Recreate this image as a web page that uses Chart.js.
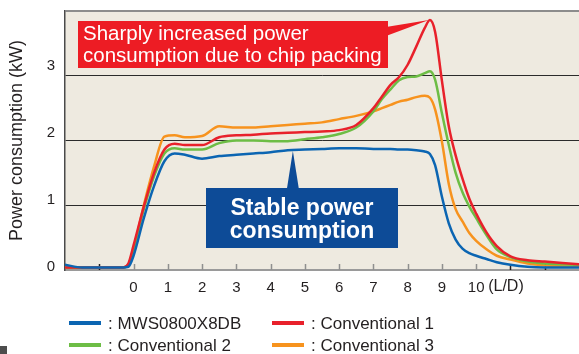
<!DOCTYPE html>
<html lang="en">
<head>
<meta charset="utf-8">
<title>Power consumption along the screw</title>
<script src="https://cdn.jsdelivr.net/npm/chart.js@4.4.1/dist/chart.umd.min.js"></script>
<style>
  html, body { margin: 0; padding: 0; background: #ffffff; }
  #wrap { width: 579px; height: 354px; }
</style>
</head>
<body>
<div id="wrap"><canvas id="chartPower" width="579" height="354"></canvas></div>
<script>
// Position along the screw (L/D), shared by all four traces
const positionLD = [-2, -1.5, -1, -0.3, -0.15, 0, 0.3, 0.6, 0.9, 1.2, 1.5, 2, 2.5, 3, 3.5, 4, 4.5, 5, 5.5, 6,
  6.5, 7, 7.25, 7.5, 7.75, 8, 8.25, 8.5, 8.65, 8.8, 9, 9.2, 9.4, 9.6, 9.8, 10, 10.3, 10.6, 11, 11.5, 12, 13];

// Power consumption in kW for each machine
const powerMWS = [0.08, 0.04, 0.04, 0.04, 0.05, 0.22, 0.80, 1.30, 1.68, 1.80, 1.78, 1.72, 1.76, 1.78, 1.80, 1.82, 1.85, 1.86, 1.87, 1.88,
  1.88, 1.87, 1.87, 1.87, 1.86, 1.86, 1.85, 1.83, 1.79, 1.62, 1.13, 0.72, 0.47, 0.33, 0.26, 0.22, 0.17, 0.12, 0.08, 0.05, 0.04, 0.04];
const powerConv1 = [0.04, 0.04, 0.04, 0.04, 0.10, 0.38, 0.98, 1.50, 1.86, 1.95, 1.93, 1.93, 2.05, 2.08, 2.09, 2.11, 2.12, 2.13, 2.14, 2.16,
  2.24, 2.50, 2.68, 2.86, 2.98, 3.17, 3.45, 3.74, 3.86, 3.68, 2.92, 2.22, 1.77, 1.41, 1.10, 0.87, 0.58, 0.37, 0.21, 0.15, 0.13, 0.09];
const powerConv2 = [0.04, 0.04, 0.04, 0.04, 0.08, 0.33, 0.94, 1.45, 1.80, 1.88, 1.86, 1.86, 1.96, 2.00, 2.00, 1.99, 1.99, 2.02, 2.05, 2.10,
  2.20, 2.45, 2.64, 2.79, 2.93, 2.98, 2.99, 3.04, 3.07, 2.94, 2.42, 1.93, 1.50, 1.20, 0.98, 0.80, 0.54, 0.32, 0.20, 0.13, 0.10, 0.08];
const powerConv3 = [0.04, 0.04, 0.04, 0.04, 0.08, 0.32, 1.00, 1.60, 2.06, 2.08, 2.05, 2.07, 2.22, 2.20, 2.20, 2.22, 2.24, 2.26, 2.28, 2.33,
  2.38, 2.45, 2.50, 2.55, 2.60, 2.63, 2.67, 2.69, 2.66, 2.48, 1.98, 1.33, 0.94, 0.75, 0.57, 0.45, 0.32, 0.22, 0.16, 0.10, 0.07, 0.05];

const seriesLabels = ['MWS0800X8DB', 'Conventional 1', 'Conventional 2', 'Conventional 3'];
const seriesColors = ['#0b65b2', '#e8212b', '#6dbd45', '#f7931e'];

// Tick labels that get printed on each axis
const xLabelValues = [0, 1, 2, 3, 4, 5, 6, 7, 8, 9, 10];
const yLabelValues = [0, 1, 2, 3];

// Callout texts
const peakNote = ['Sharply increased power', 'consumption due to chip packing'];
const stableNote = ['Stable power', 'consumption'];
const stableNoteAt = 4.65; // L/D where the blue callout points

const fontFamily = "'Liberation Sans', Arial, Helvetica, sans-serif";
const textColor = '#231f20';

function toPoints(values) {
  return positionLD.map((x, i) => ({ x: x, y: values[i] }));
}

// Linear lookup of a trace at any L/D
function valueAt(values, ld) {
  for (let i = 1; i < positionLD.length; i++) {
    if (ld <= positionLD[i]) {
      const t = (ld - positionLD[i - 1]) / (positionLD[i] - positionLD[i - 1]);
      return values[i - 1] + t * (values[i] - values[i - 1]);
    }
  }
  return values[values.length - 1];
}

// Beige plot panel
const plotBackground = {
  id: 'plotBackground',
  beforeDraw(chart) {
    const { ctx, chartArea: a } = chart;
    ctx.save();
    ctx.fillStyle = '#eeeae0';
    ctx.fillRect(a.left, a.top, a.right - a.left, a.bottom - a.top);
    ctx.restore();
  }
};

// Short tick marks standing up from the bottom axis
const innerTicks = {
  id: 'innerTicks',
  beforeDatasetsDraw(chart) {
    const { ctx, chartArea: a, scales: { x } } = chart;
    ctx.save();
    ctx.lineWidth = 1.5;
    for (let v = Math.ceil(x.min) + 1; v < x.max; v++) {
      const px = Math.round(x.getPixelForValue(v)) + 0.5;
      ctx.strokeStyle = (v >= 0 && v <= 10) ? '#8f8f8f' : '#231f20';
      ctx.beginPath();
      ctx.moveTo(px, a.bottom);
      ctx.lineTo(px, a.bottom - 6);
      ctx.stroke();
    }
    ctx.restore();
  }
};

// Y labels sit a little above their grid lines, a bit more the higher they go
const yLabels = {
  id: 'yLabels',
  afterDraw(chart) {
    const { ctx, scales: { y } } = chart;
    ctx.save();
    ctx.font = '15px ' + fontFamily;
    ctx.fillStyle = textColor;
    ctx.textAlign = 'right';
    ctx.textBaseline = 'middle';
    yLabelValues.forEach(v => {
      ctx.fillText(String(v), y.right - 10, y.getPixelForValue(v) - (3 + v * 2.3));
    });
    ctx.restore();
  }
};

// Red and blue callout boxes with their pointers
const callouts = {
  id: 'callouts',
  afterDatasetsDraw(chart) {
    const { ctx, scales: { x, y } } = chart;
    ctx.save();

    // red box pointing at the peak of Conventional 1
    const peak = Math.max(...powerConv1);
    const peakLD = positionLD[powerConv1.indexOf(peak)];
    const tipX = x.getPixelForValue(peakLD);
    const tipY = y.getPixelForValue(peak);
    ctx.fillStyle = '#ed1c24';
    ctx.fillRect(78, 21, 310, 47);
    ctx.beginPath();
    ctx.moveTo(386, 27);
    ctx.lineTo(tipX - 1, tipY);
    ctx.lineTo(386, 36);
    ctx.closePath();
    ctx.fill();
    ctx.fillStyle = '#ffffff';
    ctx.font = '20.5px ' + fontFamily;
    ctx.textAlign = 'left';
    ctx.textBaseline = 'alphabetic';
    ctx.fillText(peakNote[0], 83, 40);
    ctx.fillText(peakNote[1], 83, 62);

    // blue box pointing at the flat MWS trace
    const sx = x.getPixelForValue(stableNoteAt);
    const sy = y.getPixelForValue(valueAt(powerMWS, stableNoteAt));
    ctx.fillStyle = '#0d4b97';
    ctx.fillRect(206, 188, 192, 60);
    ctx.beginPath();
    ctx.moveTo(sx - 6, 189);
    ctx.lineTo(sx, sy + 1);
    ctx.lineTo(sx + 6, 189);
    ctx.closePath();
    ctx.fill();
    ctx.fillStyle = '#ffffff';
    ctx.font = 'bold 23px ' + fontFamily;
    ctx.textAlign = 'center';
    ctx.fillText(stableNote[0], 302, 215);
    ctx.fillText(stableNote[1], 302, 238);
    ctx.restore();
  }
};

// Two-column legend under the axis, plus the (L/D) unit
const legendRows = {
  id: 'legendRows',
  afterDraw(chart) {
    const { ctx, scales: { x } } = chart;
    const cols = [69, 272];
    const rows = [323, 345];
    ctx.save();
    ctx.font = '17px ' + fontFamily;
    ctx.textBaseline = 'middle';
    ctx.textAlign = 'left';
    chart.data.datasets.forEach((ds, i) => {
      const lx = cols[i % 2];
      const ly = rows[Math.floor(i / 2)];
      ctx.strokeStyle = ds.borderColor;
      ctx.lineWidth = 4;
      ctx.beginPath();
      ctx.moveTo(lx, ly);
      ctx.lineTo(lx + 32, ly);
      ctx.stroke();
      ctx.fillStyle = textColor;
      ctx.fillText(': ' + ds.label, lx + 39, ly + 1);
    });

    ctx.font = '16px ' + fontFamily;
    ctx.fillText('(L/D)', x.getPixelForValue(10) + 12, x.top + 17);

    ctx.fillStyle = '#4d4d4d';
    ctx.fillRect(0, 346, 7, 8);
    ctx.restore();
  }
};

document.addEventListener('DOMContentLoaded', () => {
  if (typeof Chart === 'undefined') return;

  Chart.defaults.font.family = fontFamily;
  Chart.defaults.color = textColor;

  const series = [powerMWS, powerConv1, powerConv2, powerConv3];

  new Chart(document.getElementById('chartPower').getContext('2d'), {
    type: 'line',
    data: {
      datasets: series.map((values, i) => ({
        label: seriesLabels[i],
        data: toPoints(values),
        borderColor: seriesColors[i],
        backgroundColor: seriesColors[i],
        borderWidth: 2.5,
        pointRadius: 0,
        cubicInterpolationMode: 'monotone',
        fill: false
      }))
    },
    options: {
      responsive: false,
      animation: false,
      layout: { padding: { top: 11, right: 0, bottom: 0, left: 0 } },
      plugins: {
        legend: { display: false },
        tooltip: { enabled: false }
      },
      scales: {
        x: {
          type: 'linear',
          min: -2,
          max: 13,
          grid: { display: false, drawTicks: false },
          border: { display: true, color: '#9a9a9a', width: 2 },
          ticks: {
            stepSize: 1,
            autoSkip: false,
            maxRotation: 0,
            padding: 9,
            color: textColor,
            font: { size: 15 },
            callback: v => xLabelValues.includes(v) ? String(v) : ''
          },
          afterFit: scale => {
            scale.height = 84;
            scale.paddingLeft = 0;
            scale.paddingRight = 0;
          }
        },
        y: {
          min: 0,
          max: 4,
          grid: {
            drawTicks: false,
            color: ctx => ctx.tick.value === 4 ? '#8c8c8c' : (ctx.tick.value === 0 ? 'rgba(0,0,0,0)' : '#2b2b2b'),
            lineWidth: ctx => ctx.tick.value === 4 ? 2 : 1
          },
          border: { display: true, color: '#4a4a4a', width: 1.5 },
          ticks: {
            stepSize: 1,
            display: false // drawn by the yLabels plugin
          },
          title: {
            display: true,
            text: 'Power consumption (kW)',
            color: textColor,
            font: { size: 18 },
            padding: { top: 6, bottom: 0 }
          },
          afterFit: scale => {
            scale.width = 65;
            scale.paddingTop = 0;
            scale.paddingBottom = 0;
          }
        }
      }
    },
    plugins: [plotBackground, innerTicks, yLabels, callouts, legendRows]
  });
});
</script>
</body>
</html>
